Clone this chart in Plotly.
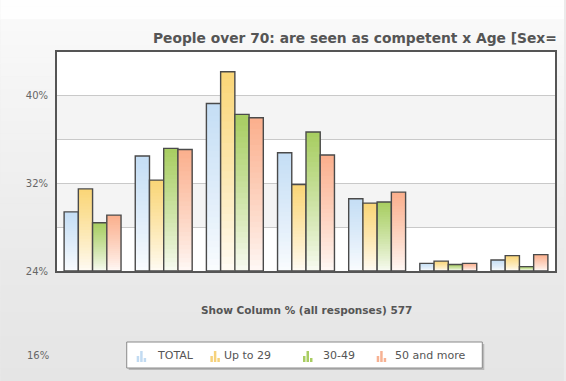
import plotly.graph_objects as go

# ---------------- data ----------------
categories = ["C1", "C2", "C3", "C4", "C5", "C6", "C7"]
series_names = ["TOTAL", "Up to 29", "30-49", "50 and more"]
total = [29.4, 34.5, 39.3, 34.8, 30.6, 24.7, 25.0]
up_to_29 = [31.5, 32.3, 42.2, 31.9, 30.2, 24.9, 25.4]
age_30_49 = [28.4, 35.2, 38.3, 36.7, 30.3, 24.6, 24.4]
age_50_plus = [29.1, 35.1, 38.0, 34.6, 31.2, 24.7, 25.5]
y_tick_vals = [24, 28, 32, 36, 40, 44]
y_tick_text = ["24%", "", "32%", "", "40%", ""]
extra_label = "16%"
title_text = "People over 70: are seen as competent x Age [Sex="
subtitle_text = "Show Column % (all responses) 577"

series_values = [total, up_to_29, age_30_49, age_50_plus]
top_colors = [(197, 222, 245), (250, 214, 120), (168, 206, 98), (251, 176, 142)]
icon_colors = ["#c2dbf2", "#f6d27c", "#a9cd62", "#f7b293"]

# ---------------- geometry ----------------
W, H = 566, 381
ML, MR, MT, MB = 57, 9, 52, 110
PW, PH = W - ML - MR, H - MT - MB
BASE = 24


def px_x(p):
    return (p - ML) / PW


def px_y(p):
    return (H - MB - p) / PH


def mix(c, t):
    return "rgb(%d,%d,%d)" % tuple(round(255 + (ci - 255) * t) for ci in c)


fig = go.Figure()
N = 28
bw = 0.2
for i, (vals, col) in enumerate(zip(series_values, top_colors)):
    off = -0.4 + bw * i
    for k in range(N):
        frac = (N - k) / N
        t = 0.04 + 0.96 * frac ** 0.85
        fig.add_trace(go.Bar(
            x=categories, y=[(v - BASE) * frac for v in vals], base=BASE,
            width=bw, offset=off, marker=dict(color=mix(col, t), line=dict(width=0)),
            showlegend=False, hoverinfo="skip"))
    fig.add_trace(go.Bar(
        x=categories, y=[v - BASE for v in vals], base=BASE, name=series_names[i],
        width=bw, offset=off,
        marker=dict(color="rgba(0,0,0,0)", line=dict(color="#4a4a4a", width=1.4)),
        showlegend=False, hoverinfo="skip"))

shapes = []
# page background gradient
stops = [(0, (254, 254, 254)), (20, (254, 254, 254)), (22, (249, 249, 249)),
         (270, (233, 233, 233)), (381, (229, 229, 229))]
steps = 60
for s in range(steps):
    y0 = s * H / steps
    y1 = (s + 1) * H / steps + 0.5
    ym = (y0 + y1) / 2
    for j in range(len(stops) - 1):
        if stops[j][0] <= ym <= stops[j + 1][0]:
            a, b = stops[j], stops[j + 1]
            f = (ym - a[0]) / max(b[0] - a[0], 1e-9)
            c = tuple(round(a[1][q] + (b[1][q] - a[1][q]) * f) for q in range(3))
            break
    shapes.append(dict(type="rect", xref="paper", yref="paper", layer="below",
                       x0=px_x(0), x1=px_x(W), y0=px_y(y1), y1=px_y(y0),
                       fillcolor="rgb(%d,%d,%d)" % c, line=dict(width=0)))
# plot area white
shapes.append(dict(type="rect", xref="paper", yref="paper", layer="below",
                   x0=0, x1=1, y0=0, y1=1, fillcolor="white", line=dict(width=0)))
# alternating bands
for lo, hi in [(28, 32), (36, 40)]:
    shapes.append(dict(type="rect", xref="paper", yref="y", layer="below",
                       x0=0, x1=1, y0=lo, y1=hi, fillcolor="#f4f4f4", line=dict(width=0)))

# legend box
lx0, lx1, ly0, ly1 = 127, 484, 342, 368
shapes.append(dict(type="rect", xref="paper", yref="paper", layer="above",
                   x0=px_x(lx0 + 2), x1=px_x(lx1 + 2), y0=px_y(ly1 + 2), y1=px_y(ly0 + 2),
                   fillcolor="#b8b8b8", line=dict(width=0)))
shapes.append(dict(type="rect", xref="paper", yref="paper", layer="above",
                   x0=px_x(lx0), x1=px_x(lx1), y0=px_y(ly1), y1=px_y(ly0),
                   fillcolor="white", line=dict(color="#8a8a8a", width=1)))

annotations = []
icon_x = [137, 211, 304, 378]
text_x = [155, 223, 322, 394]
legend_cy = 355
for i, name in enumerate(series_names):
    x0 = icon_x[i]
    for dx, hgt in [(0, 6), (3.5, 11), (7, 4)]:
        shapes.append(dict(type="rect", xref="paper", yref="paper", layer="above",
                           x0=px_x(x0 + dx), x1=px_x(x0 + dx + 2.5),
                           y0=px_y(362), y1=px_y(362 - hgt),
                           fillcolor=icon_colors[i], line=dict(width=0)))
    annotations.append(dict(xref="paper", yref="paper", x=px_x(text_x[i]), y=px_y(legend_cy),
                            xanchor="left", yanchor="middle", showarrow=False, text=name,
                            font=dict(family="DejaVu Sans", size=11, color="#555")))

annotations.append(dict(xref="paper", yref="paper", x=px_x(151), y=px_y(38),
                        xanchor="left", yanchor="middle", showarrow=False,
                        text="<b>" + title_text + "</b>",
                        font=dict(family="DejaVu Sans", size=13.8, color="#555")))
annotations.append(dict(xref="paper", yref="paper", x=px_x(307), y=px_y(310),
                        xanchor="center", yanchor="middle", showarrow=False,
                        text="<b>" + subtitle_text + "</b>",
                        font=dict(family="DejaVu Sans", size=10.5, color="#555")))
annotations.append(dict(xref="paper", yref="paper", x=px_x(51), y=px_y(355),
                        xanchor="right", yanchor="middle", showarrow=False,
                        text=extra_label,
                        font=dict(family="DejaVu Sans", size=10, color="#666")))

fig.update_layout(
    width=W, height=H, margin=dict(l=ML, r=MR, t=MT, b=MB, pad=0),
    barmode="overlay",
    paper_bgcolor="#ebebeb", plot_bgcolor="rgba(0,0,0,0)",
    showlegend=False, shapes=shapes, annotations=annotations,
    font=dict(family="DejaVu Sans", color="#555"),
    xaxis=dict(type="category", range=[-0.5, 6.5], showticklabels=False, showgrid=False,
               showline=True, mirror=True, linecolor="#555", linewidth=2, ticks="",
               zeroline=False, fixedrange=True),
    yaxis=dict(range=[24, 44], tickvals=y_tick_vals, ticktext=y_tick_text,
               showgrid=True, gridcolor="#c9c9c9", gridwidth=1,
               showline=True, mirror=True, linecolor="#555", linewidth=2, ticks="",
               ticklabelstandoff=5, zeroline=False,
               tickfont=dict(family="DejaVu Sans", size=10, color="#666"), fixedrange=True),
)

fig.write_html("out.html", config={"displayModeBar": False})
